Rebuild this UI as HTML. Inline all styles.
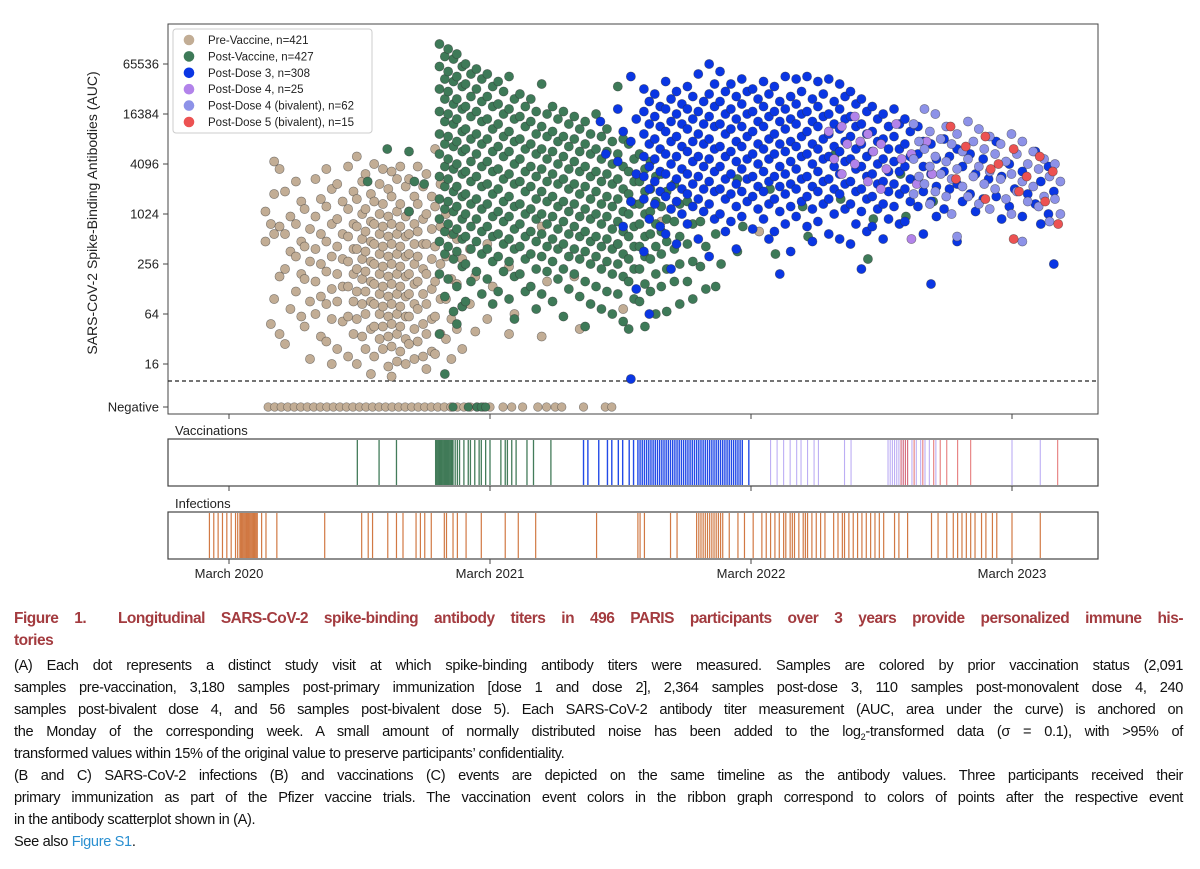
<!DOCTYPE html>
<html><head><meta charset="utf-8"><style>
body{margin:0;background:#fff;width:1200px;height:869px;overflow:hidden;position:relative;font-family:"Liberation Sans",sans-serif}
svg{position:absolute;left:0;top:0}
.ln{position:absolute;left:14px;width:1169px;font-size:14.6px;color:#111;white-space:nowrap;text-align:justify;text-align-last:justify;line-height:16px;letter-spacing:-0.35px}
.nl{text-align-last:left}
.tt{color:#a33b3f;font-weight:bold;font-size:15.5px;letter-spacing:-0.5px}
</style></head><body>
<svg id="chart" width="1200" height="600" font-family="Liberation Sans, sans-serif"></svg>
<div class="ln tt" style="top:611px">Figure 1.&nbsp; Longitudinal SARS-CoV-2 spike-binding antibody titers in 496 PARIS participants over 3 years provide personalized immune his-</div>
<div class="ln tt nl" style="top:633px">tories</div>
<div class="ln" style="top:658px">(A) Each dot represents a distinct study visit at which spike-binding antibody titers were measured. Samples are colored by prior vaccination status (2,091</div>
<div class="ln" style="top:680px">samples pre-vaccination, 3,180 samples post-primary immunization [dose 1 and dose 2], 2,364 samples post-dose 3, 110 samples post-monovalent dose 4, 240</div>
<div class="ln" style="top:702px">samples post-bivalent dose 4, and 56 samples post-bivalent dose 5). Each SARS-CoV-2 antibody titer measurement (AUC, area under the curve) is anchored on</div>
<div class="ln" style="top:724px">the Monday of the corresponding week. A small amount of normally distributed noise has been added to the log<sub style="font-size:9px;line-height:0">2</sub>-transformed data (σ = 0.1), with &gt;95% of</div>
<div class="ln nl" style="top:746px">transformed values within 15% of the original value to preserve participants’ confidentiality.</div>
<div class="ln" style="top:768px">(B and C) SARS-CoV-2 infections (B) and vaccinations (C) events are depicted on the same timeline as the antibody values. Three participants received their</div>
<div class="ln" style="top:790px">primary immunization as part of the Pfizer vaccine trials. The vaccination event colors in the ribbon graph correspond to colors of points after the respective event</div>
<div class="ln nl" style="top:812px">in the antibody scatterplot shown in (A).</div>
<div class="ln nl" style="top:834px">See also <span style="color:#2a8fd0">Figure S1</span>.</div>
<script>
// months since March 2020, log2(AUC)
const yTickLabels=["65536","16384","4096","1024","256","64","16"];
const yTickValues=[16,14,12,10,8,6,4];
const xTickLabels=["March 2020","March 2021","March 2022","March 2023"];
const xTickMonths=[0,12,24,36];
const legendLabels=["Pre-Vaccine, n=421","Post-Vaccine, n=427","Post-Dose 3, n=308","Post-Dose 4, n=25","Post-Dose 4 (bivalent), n=62","Post-Dose 5 (bivalent), n=15"];
const preVaccine=[[1.8,[10.1,9.6,8.9,5.6]],[2.2,[12.1,11.8,10.8,9.5,9.2,7.5,6.6,5.2]],[2.7,[10.9,9.9,9.2,8.5,7.8,6.2,4.8]],[3.2,[11.3,10.5,9.6,8.9,8.3,7.6,6.9,5.9]],[3.6,[10.2,9.4,8.7,8.1,7.4,6.5,5.5,4.2]],[4.1,[11.4,10.6,9.9,9.2,8.6,8.0,7.3,6.7,6.0,5.1]],[4.6,[11.8,11.0,10.3,9.6,8.9,8.3,7.7,7.0,6.4,5.8,4.9,4.0]],[5.1,[11.2,10.5,9.8,9.2,8.7,8.2,7.6,7.1,6.5,5.7,4.6]],[5.6,[11.9,10.9,10.2,9.6,9.1,8.6,8.1,7.6,7.1,6.5,5.9,5.2,4.3]],[6.0,[12.3,11.3,10.6,10.0,9.5,9.0,8.6,8.2,7.8,7.4,6.9,6.4,5.8,5.1,4.0]],[6.4,[11.6,10.8,10.2,9.7,9.3,8.9,8.5,8.1,7.7,7.3,6.9,6.5,6.0,5.4,4.6,3.6]],[6.8,[12.0,11.2,10.5,10.0,9.6,9.2,8.8,8.4,8.0,7.6,7.2,6.8,6.4,6.0,5.5,5.0,4.3]],[7.2,[11.8,11.0,10.4,9.9,9.5,9.1,8.7,8.3,7.9,7.5,7.1,6.7,6.3,5.9,5.5,5.1,4.6,3.9]],[7.6,[11.7,11.4,10.7,10.1,9.6,9.2,8.8,8.4,8.0,7.6,7.2,6.8,6.4,6.0,5.6,5.2,4.7,4.1,3.5]],[8.0,[11.9,11.1,10.4,9.9,9.5,9.1,8.7,8.3,7.9,7.5,7.1,6.7,6.3,5.9,5.5,5.0,4.5,4.0]],[8.4,[11.4,10.7,10.1,9.6,9.2,8.8,8.4,8.0,7.6,7.2,6.8,6.4,5.9,5.4,4.8,4.2]],[8.8,[11.9,11.1,10.4,9.8,9.3,8.8,8.3,7.8,7.3,6.8,6.2,5.6,4.9,4.3]],[9.2,[11.6,10.7,10.0,9.4,8.8,8.2,7.6,7.0,6.4,5.8,5.2,4.5,3.8]],[9.6,[12.6,11.2,10.3,9.5,8.7,8.0,7.3,6.6,5.9,5.2,4.4]],[10.1,[10.0,9.2,8.3,7.4,6.6,5.8,5.0,4.2]],[10.6,[9.0,8.2,7.2,6.3,5.4,4.6]],[11.2,[8.6,7.5,6.4,5.3]],[12.0,[8.8,7.1,5.8]],[13.0,[7.9,6.0,5.2]],[14.5,[9.5,7.3,5.1]],[16,[7.5,5.4]],[18,[8.8,6.2]],[20,[9.7]],[24.5,[9.3]]];
const preNegative=[1.8,2.1,2.4,2.7,3.0,3.3,3.6,3.9,4.2,4.5,4.8,5.1,5.4,5.7,6.0,6.3,6.6,6.9,7.2,7.5,7.8,8.1,8.4,8.7,9.0,9.3,9.6,9.9,10.2,10.5,10.8,11.1,11.4,11.7,12.0,12.6,13.0,13.5,14.2,14.6,15.0,15.3,16.3,17.3,17.6];
const postVaccine=[[6.5,[11.3]],[7.4,[12.6]],[8.4,[12.5,11.3,10.1]],[9.1,[11.2]],[9.8,[16.8,16.3,15.9,15.4,15.0,14.6,14.1,13.7,13.2,12.8,12.4,11.9,11.5,11.1,10.6,10.2,9.8,9.3,8.9,8.4,7.6,6.7,5.2,3.6]],[10.2,[16.6,16.2,15.7,15.3,14.9,14.4,14.0,13.6,13.1,12.7,12.2,11.8,11.4,10.9,10.5,10.1,9.6,9.2,8.7,8.2,7.4,6.1]],[10.6,[16.4,15.9,15.5,15.1,14.6,14.2,13.8,13.3,12.9,12.5,12.0,11.6,11.1,10.7,10.3,9.8,9.4,9.0,8.5,7.9,7.1,6.3,5.6]],[11.0,[16.0,15.6,15.2,14.7,14.3,13.9,13.4,13.0,12.6,12.1,11.7,11.3,10.8,10.4,10.0,9.5,9.1,8.6,8.0,7.3,6.5]],[11.5,[15.8,15.4,15.0,14.5,14.1,13.7,13.2,12.8,12.4,11.9,11.5,11.1,10.6,10.2,9.8,9.3,8.9,8.4,7.7,6.8]],[12.0,[15.6,15.1,14.7,14.3,13.8,13.4,13.0,12.5,12.1,11.7,11.2,10.8,10.4,9.9,9.5,9.1,8.6,8.1,7.4,6.4]],[12.5,[15.3,14.9,14.4,14.0,13.6,13.1,12.7,12.3,11.8,11.4,11.0,10.5,10.1,9.7,9.2,8.8,8.3,7.7,6.9]],[13.0,[15.5,14.6,14.2,13.8,13.3,12.9,12.5,12.0,11.6,11.2,10.7,10.3,9.9,9.4,9.0,8.6,8.1,7.5,6.6,5.8]],[13.5,[14.8,14.3,13.9,13.5,13.0,12.6,12.2,11.7,11.3,10.9,10.4,10.0,9.6,9.1,8.7,8.2,7.6,6.9]],[14.0,[14.6,14.1,13.7,13.2,12.8,12.4,11.9,11.5,11.1,10.6,10.2,9.8,9.3,8.9,8.4,7.8,7.1,6.2]],[14.5,[15.2,14.0,13.5,13.1,12.6,12.2,11.8,11.3,10.9,10.5,10.0,9.6,9.2,8.7,8.3,7.7,6.8]],[15.0,[14.3,13.8,13.3,12.9,12.5,12.0,11.6,11.2,10.7,10.3,9.9,9.4,9.0,8.6,8.1,7.4,6.5]],[15.5,[14.1,13.6,13.1,12.7,12.3,11.8,11.4,11.0,10.5,10.1,9.7,9.2,8.8,8.3,7.8,7.0,5.9]],[16.0,[13.9,13.4,13.0,12.5,12.1,11.7,11.2,10.8,10.4,9.9,9.5,9.1,8.6,8.2,7.6,6.7]],[16.5,[13.7,13.2,12.8,12.4,11.9,11.5,11.1,10.6,10.2,9.8,9.3,8.9,8.5,8.0,7.3,6.4,5.5]],[17.0,[14.0,13.1,12.6,12.2,11.7,11.3,10.9,10.4,10.0,9.6,9.1,8.7,8.3,7.8,7.1,6.2]],[17.5,[13.4,12.9,12.5,12.0,11.6,11.2,10.7,10.3,9.9,9.4,9.0,8.6,8.1,7.6,6.9,6.0]],[18.0,[15.1,13.0,12.4,11.9,11.4,11.0,10.6,10.1,9.7,9.3,8.8,8.4,8.0,7.5,6.8,5.7]],[18.5,[12.8,12.2,11.7,11.3,10.8,10.4,10.0,9.5,9.1,8.7,8.2,7.8,7.3,6.6,5.4]],[19.0,[12.4,11.8,11.3,10.9,10.4,10.0,9.6,9.1,8.7,8.3,7.8,7.2,6.5,5.5]],[19.5,[12.1,11.5,11.0,10.5,10.1,9.6,9.2,8.7,8.2,7.6,6.9,6.0]],[20.0,[11.6,10.9,10.3,9.8,9.3,8.9,8.4,7.8,7.1,6.1]],[20.6,[11.2,10.4,9.7,9.1,8.6,8.0,7.3,6.4]],[21.2,[10.5,9.6,8.8,8.1,7.3,6.6]],[21.8,[9.7,8.7,7.9,7.0]],[22.5,[9.2,8.0,7.1]],[23.5,[11.4,9.5,8.5]],[25,[11.0,8.4]],[26.5,[10.3,9.1]],[28,[12.4,10.6]],[29.5,[8.2,9.8]],[31,[11.6,9.9]],[32.5,[10.5]]];
const postNegative=[10.3,11.0,11.4,11.6,11.8];
const postDose3=[[17.2,[13.7,12.4]],[18.0,[14.2,13.3,12.1,9.5]],[18.6,[15.5,13.8,12.9,11.6,10.5,7.0,3.4]],[19.2,[15.0,14.5,14.1,13.6,13.2,12.8,12.3,11.9,11.5,11.0,10.6,9.8,8.5,6.0]],[19.7,[14.8,14.3,13.9,13.5,13.0,12.6,12.2,11.7,11.3,10.9,10.4,9.5]],[20.2,[15.3,14.6,14.2,13.7,13.3,12.9,12.4,12.0,11.6,11.1,10.7,10.2,9.2,7.8]],[20.7,[14.9,14.4,14.0,13.6,13.1,12.7,12.3,11.8,11.4,11.0,10.5,10.0,8.8]],[21.2,[15.1,14.7,14.2,13.8,13.4,12.9,12.5,12.1,11.6,11.2,10.8,10.3,9.6]],[21.7,[15.6,14.5,14.1,13.6,13.2,12.8,12.3,11.9,11.5,11.0,10.6,10.1,9.0]],[22.2,[16.0,15.2,14.8,14.3,13.9,13.5,13.0,12.6,12.2,11.7,11.3,10.9,10.4,9.8,8.3]],[22.7,[15.7,14.9,14.5,14.0,13.6,13.2,12.7,12.3,11.9,11.4,11.0,10.6,10.0,9.3]],[23.2,[15.2,14.7,14.2,13.8,13.4,12.9,12.5,12.1,11.6,11.2,10.8,10.3,9.7,8.6]],[23.7,[15.4,14.9,14.4,14.0,13.5,13.1,12.7,12.2,11.8,11.4,10.9,10.5,9.9]],[24.2,[15.0,14.6,14.1,13.7,13.3,12.8,12.4,12.0,11.5,11.1,10.7,10.2,9.4]],[24.7,[15.3,14.8,14.3,13.9,13.5,13.0,12.6,12.2,11.7,11.3,10.9,10.4,9.8,9.0]],[25.2,[15.1,14.5,14.1,13.7,13.2,12.8,12.4,11.9,11.5,11.1,10.6,10.1,9.3,7.6]],[25.7,[15.5,14.7,14.2,13.8,13.4,12.9,12.5,12.1,11.6,11.2,10.8,10.3,9.6,8.5]],[26.2,[15.4,14.9,14.4,14.0,13.6,13.1,12.7,12.3,11.8,11.4,11.0,10.5,9.9]],[26.7,[15.5,14.6,14.1,13.7,13.3,12.8,12.4,12.0,11.5,11.1,10.7,10.2,9.5,8.9]],[27.2,[15.3,14.8,14.3,13.9,13.5,13.0,12.6,12.2,11.7,11.3,10.9,10.4,9.7]],[27.7,[15.4,14.5,14.0,13.6,13.2,12.7,12.3,11.9,11.4,11.0,10.6,10.0,9.2]],[28.2,[15.2,14.7,14.2,13.8,13.4,12.9,12.5,12.1,11.6,11.2,10.8,10.2,9.0]],[28.7,[14.9,14.4,13.9,13.5,13.1,12.6,12.2,11.8,11.3,10.9,10.4,9.6,8.8]],[29.2,[14.6,14.1,13.6,13.2,12.8,12.3,11.9,11.5,11.0,10.6,10.1,9.3,7.8]],[29.7,[14.3,13.8,13.3,12.9,12.5,12.0,11.6,11.2,10.7,10.2,9.5]],[30.2,[14.0,13.5,13.0,12.6,12.2,11.7,11.3,10.9,10.4,9.8,9.0]],[30.7,[14.2,13.6,13.1,12.6,12.1,11.7,11.2,10.8,10.3,9.6]],[31.2,[13.8,13.3,12.8,12.3,11.9,11.4,11.0,10.5,9.7]],[31.8,[13.5,12.9,12.4,11.9,11.4,10.9,10.3,9.2]],[32.4,[12.8,12.2,11.6,11.1,10.5,9.9,7.2]],[33.0,[13.0,12.3,11.7,11.0,10.2]],[33.6,[12.6,11.9,11.2,10.5,8.9]],[34.2,[12.4,11.6,10.8,10.1]],[34.8,[12.2,11.4,10.6]],[35.4,[12.9,11.5,10.7,9.8]],[36.0,[12.0,11.0,10.3]],[36.6,[11.7,10.8,9.9]],[37.2,[12.5,11.3,10.4,9.6]],[37.8,[11.9,10.9,10.0,8.0]]];
const postDose4=[[27.7,[13.3,12.2]],[28.3,[13.5,12.8,11.6]],[28.9,[13.9,12.9,12.0]],[29.5,[13.2,12.5,11.3]],[30.1,[12.8,11.8,11.0]],[30.8,[13.6,12.2]],[31.5,[12.4,11.2,9.0]],[32.2,[12.9,11.6]]];
const postBivalent4=[[31.6,[13.6,12.9,12.2,11.5,10.8]],[32.1,[14.2,13.3,12.6,11.9,11.2,10.4]],[32.6,[14.0,13.0,12.3,11.6,10.9]],[33.1,[13.5,12.8,12.1,11.4,10.7,10.0]],[33.6,[13.2,12.5,11.8,11.1,9.1]],[34.1,[13.7,12.9,12.2,11.5,10.7]],[34.6,[13.4,12.6,11.9,11.2,10.4]],[35.1,[13.1,12.4,11.7,11.0,10.2]],[35.6,[12.8,12.1,11.4,10.6]],[36.1,[13.2,12.4,11.6,10.9,10.0]],[36.6,[12.9,12.0,11.3,10.5,8.9]],[37.1,[12.5,11.8,11.1,10.3]],[37.6,[12.2,11.5,10.7,9.7]],[38.1,[12.0,11.3,10.6,10.0]]];
const postBivalent5=[[33.3,[13.5,11.4]],[34.0,[12.7]],[34.9,[13.1,11.8,10.6]],[35.5,[12.0]],[36.2,[12.6,10.9,9.0]],[36.8,[11.5]],[37.4,[12.3,10.5]],[38.0,[11.7,9.6]]];
const vaxGreen=[5.9,6.9,7.7,9.5,9.55,9.6,9.65,9.7,9.75,9.8,9.85,9.9,9.95,10.0,10.05,10.1,10.15,10.2,10.25,10.3,10.4,10.5,10.6,10.8,11.0,11.1,11.3,11.5,11.6,11.8,12.0,12.5,12.7,12.8,13.0,13.2,13.7,14.0,14.8];
const vaxBlue=[16.3,16.5,17.0,17.4,17.6,17.9,18.1,18.4,18.6,18.8,18.9,19.0,19.1,19.2,19.3,19.4,19.5,19.6,19.7,19.8,19.9,20.0,20.1,20.2,20.3,20.4,20.5,20.6,20.7,20.8,20.9,21.0,21.1,21.2,21.3,21.4,21.5,21.6,21.7,21.8,21.9,22.0,22.1,22.2,22.3,22.4,22.5,22.6,22.7,22.8,22.9,23.0,23.1,23.2,23.3,23.4,23.5,23.6,23.9];
const vaxDose4=[24.9,25.2,25.5,25.8,26.1,26.3,26.6,26.9,27.1,28.3,28.6,30.3,30.4,30.5,30.6,30.7,30.8,30.9,31.0,31.1,31.2,31.4,31.6,31.8,32.0,32.2,32.5,36.0,37.3];
const vaxDose5=[30.9,31.0,31.1,31.2,31.5,31.9,32.4,32.7,33.0,33.5,34.1,38.1];
const infections=[-0.9,-0.7,-0.5,-0.3,-0.1,0.1,0.3,0.4,0.5,0.55,0.6,0.65,0.7,0.75,0.8,0.85,0.9,0.95,1.0,1.05,1.1,1.15,1.2,1.25,1.3,1.5,1.7,2.2,4.4,6.1,6.4,6.6,7.3,7.7,8.0,8.6,8.8,9.0,9.3,9.9,10.0,10.3,10.5,10.9,11.6,12.7,13.3,14.1,16.9,18.8,18.9,19.1,20.3,20.6,21.5,21.6,21.7,21.8,21.9,22.0,22.1,22.2,22.3,22.4,22.5,22.6,22.7,23.0,23.4,23.7,24.1,24.5,24.7,24.9,25.1,25.3,25.5,25.6,25.8,25.9,26.0,26.2,26.4,26.5,26.6,26.8,27.0,27.2,27.4,27.8,28.0,28.2,28.3,28.5,28.7,28.9,29.1,29.3,29.5,29.7,29.9,30.1,30.6,30.8,31.2,32.3,32.6,33.0,33.3,33.5,33.7,33.9,34.1,34.3,34.6,34.8,35.1,35.3,36.0,37.3];

const NS="http://www.w3.org/2000/svg";
const svg=document.getElementById('chart');
const PL=168,PR=1098,PT=24,PB=414;
const xScale=m=>229+m*21.75;
const yScale=L=>364-(L-4)*25;
const yNeg=407;
function mk(tag,attrs,parent){const e=document.createElementNS(NS,tag);for(const k in attrs)e.setAttribute(k,attrs[k]);(parent||svg).appendChild(e);return e;}
function txt(s,attrs,parent){const e=mk('text',attrs,parent);e.textContent=s;return e;}

const frame=mk('rect',{x:PL,y:PT,width:PR-PL,height:PB-PT,fill:'none',stroke:'#444','stroke-width':1});


yTickValues.forEach((v,i)=>{
  const y=yScale(v);
  const t=mk('line',{x1:PL-5,x2:PL,y1:y,y2:y,stroke:'#444'});
  
  
  const l=txt(yTickLabels[i],{x:PL-9,y:y+4.5,'text-anchor':'end','font-size':13,fill:'#222'});
  
  
});
const nt=mk('line',{x1:PL-5,x2:PL,y1:yNeg,y2:yNeg,stroke:'#444'});


const nl=txt('Negative',{x:PL-9,y:yNeg+4.5,'text-anchor':'end','font-size':13,fill:'#222'});


const yt=txt('SARS-CoV-2 Spike-Binding Antibodies (AUC)',{x:0,y:0,'text-anchor':'middle','font-size':14,fill:'#222',transform:'translate(97,213) rotate(-90)'});


const dash=mk('line',{x1:PL,x2:PR,y1:381,y2:381,stroke:'#222','stroke-dasharray':'4,3','stroke-width':1.2});


xTickMonths.forEach(m=>{[PB,486,559].forEach(y=>{const t=mk('line',{x1:xScale(m),x2:xScale(m),y1:y,y2:y+5,stroke:'#444'});
  
  });});

const gPts=mk('g',{});


// alternate points between two weekly sub-columns for a natural look
function series(cols,fill,name){cols.forEach(c=>c[1].forEach((L,i)=>{
  const off=(i%2===0?-2.7:2.7);
  const e=mk('circle',{cx:xScale(c[0])+off,cy:yScale(L),r:4.6,fill:fill,stroke:'rgba(50,50,50,0.55)','stroke-width':0.6},gPts);
  
  }));}
function negs(arr,fill,name){arr.forEach(m=>{
  const e=mk('circle',{cx:xScale(m),cy:yNeg,r:4.3,fill:fill,stroke:'rgba(50,50,50,0.55)','stroke-width':0.6},gPts);
  
  });}
const colors=['#c2ad95','#3e7a58','#0a36e4','#b283ea','#8d92e8','#ec5252'];
series(preVaccine,colors[0],'pre-vaccine-point');
negs(preNegative,colors[0],'pre-vaccine-negative-point');
series(postVaccine,colors[1],'post-vaccine-point');
negs(postNegative,colors[1],'post-vaccine-negative-point');
series(postDose3,colors[2],'post-dose3-point');
series(postDose4,colors[3],'post-dose4-point');
series(postBivalent4,colors[4],'post-bivalent4-point');
series(postBivalent5,colors[5],'post-bivalent5-point');

const lg=mk('g',{});


const lb=mk('rect',{x:173,y:29,width:199,height:104,rx:3,fill:'rgba(255,255,255,0.85)',stroke:'#ccc'},lg);


legendLabels.forEach((s,i)=>{
  const y=40+i*16.4;
  const c=mk('circle',{cx:189,cy:y,r:5.3,fill:colors[i]},lg);
  
  
  const t=txt(s,{x:208,y:y+4,'font-size':11.5,fill:'#222'},lg);
  
  
});

function ribbon(top,label,name){
  const r=mk('rect',{x:PL,y:top,width:PR-PL,height:47,fill:'none',stroke:'#444','stroke-width':1.2});
  
  
  const t=txt(label,{x:175,y:top-4,'font-size':13,fill:'#222'});
  
  
}
function events(arr,top,color,op,w,name){arr.forEach(m=>{
  const e=mk('line',{x1:xScale(m),x2:xScale(m),y1:top+1,y2:top+46,stroke:color,'stroke-width':w,'stroke-opacity':op});
  
  });}
events(vaxGreen,439,'#2f6e48',0.9,1.3,'vaccination-event-primary');
events(vaxBlue,439,'#0a36e4',0.9,1.4,'vaccination-event-dose3');
events(vaxDose4,439,'#9f8cf0',0.7,1.1,'vaccination-event-dose4');
events(vaxDose5,439,'#e05a5a',0.8,1.1,'vaccination-event-dose5');
events(infections,512,'#cc6a30',0.9,1.2,'infection-event');
ribbon(439,'Vaccinations','vaccinations-ribbon');
ribbon(512,'Infections','infections-ribbon');
xTickMonths.forEach((m,i)=>{const t=txt(xTickLabels[i],{x:xScale(m),y:578,'text-anchor':'middle','font-size':13,fill:'#222'});
  
  });
</script>
</body></html>
